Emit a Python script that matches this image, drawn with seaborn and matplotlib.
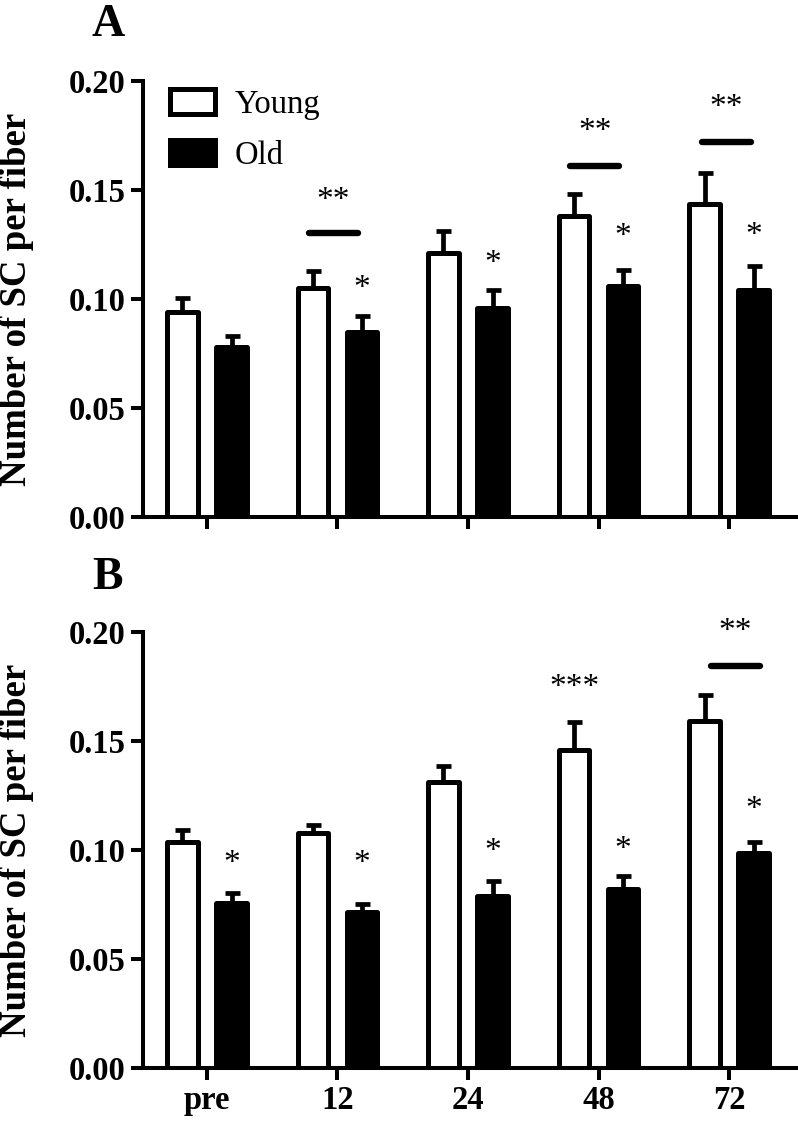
import numpy as np
import pandas as pd
import matplotlib
matplotlib.use('Agg')
import matplotlib.pyplot as plt
from matplotlib.patches import Patch
import seaborn as sns

# ── DATA ─────────────────────────────────────────────────────────────────────
times = ['pre', '12', '24', '48', '72']
groups = ['Young', 'Old']

a_young = [0.094, 0.105, 0.121, 0.138, 0.1435]
a_young_err = [0.0065, 0.008, 0.010, 0.010, 0.0145]
a_old = [0.078, 0.085, 0.096, 0.106, 0.104]
a_old_err = [0.005, 0.007, 0.008, 0.0075, 0.011]

b_young = [0.1035, 0.108, 0.131, 0.146, 0.159]
b_young_err = [0.0055, 0.0035, 0.0075, 0.0128, 0.012]
b_old = [0.0757, 0.0716, 0.079, 0.0821, 0.0986]
b_old_err = [0.0046, 0.0036, 0.0068, 0.006, 0.005]

# significance marks
a_star_old = ['', '*', '*', '*', '*']
a_star_old_y = [0, 0.1087, 0.1202, 0.1326, 0.133]
a_star_young = ['', '', '', '', '']
a_star_young_y = [0, 0, 0, 0, 0]
a_pair = ['', '**', '', '**', '**']
a_pair_line_y = [0, 0.1303, 0, 0.161, 0.172]
a_pair_text_y = [0, 0.149, 0, 0.1807, 0.1917]
a_pair_shift = [0, -0.03, 0, -0.03, -0.02]

b_star_old = ['*', '*', '*', '*', '*']
b_star_old_y = [0.0977, 0.0977, 0.1032, 0.1041, 0.1225]
b_star_young = ['', '', '', '***', '']
b_star_young_y = [0, 0, 0, 0.1784, 0]
b_pair = ['', '', '', '', '**']
b_pair_line_y = [0, 0, 0, 0, 0.1844]
b_pair_text_y = [0, 0, 0, 0, 0.2041]
b_pair_shift = [0, 0, 0, 0, 0.05]

# ── STYLE ────────────────────────────────────────────────────────────────────
sns.set_style('ticks')
plt.rcParams['font.family'] = ['Liberation Serif', 'DejaVu Serif']
plt.rcParams['axes.linewidth'] = 2.9
for key in ['text.color', 'axes.labelcolor', 'xtick.color', 'ytick.color', 'axes.edgecolor']:
    plt.rcParams[key] = 'black'

fig = plt.figure(figsize=(7.98, 11.23), dpi=100)
ax_a = fig.add_axes([0.1792, 0.5396, 0.8195, 0.3883])
ax_b = fig.add_axes([0.1792, 0.0490, 0.8195, 0.3883])


def draw_panel(ax, young, young_err, old, old_err,
               star_young, star_young_y, star_old, star_old_y,
               pair, pair_line_y, pair_text_y, pair_shift, show_xlabels):
    df = pd.DataFrame({
        'time': times * 2,
        'group': ['Young'] * len(times) + ['Old'] * len(times),
        'value': list(young) + list(old),
    })
    sns.barplot(data=df, x='time', y='value', hue='group', order=times,
                hue_order=groups, palette={'Young': 'white', 'Old': 'black'},
                edgecolor='black', linewidth=3.6, width=0.752, gap=0.375,
                errorbar=None, legend=False, ax=ax)
    for p in ax.patches:
        p.set_joinstyle('round')

    bars = ax.patches
    xs_y = [b.get_x() + b.get_width() / 2 for b in bars[:5]]
    xs_o = [b.get_x() + b.get_width() / 2 for b in bars[5:10]]

    for xs, vals, errs in [(xs_y, young, young_err), (xs_o, old, old_err)]:
        ax.errorbar(xs, vals, yerr=[np.zeros(len(vals)), errs], fmt='none',
                    ecolor='black', elinewidth=3.4, capsize=5.4, capthick=3.4,
                    zorder=1)

    def star(txt, x, y):
        ax.annotate(txt, (x, y), xytext=(0, -6.5), textcoords='offset points',
                    ha='center', va='center', fontsize=24, clip_on=False,
                    annotation_clip=False)

    for i in range(len(times)):
        if star_old[i]:
            star(star_old[i], xs_o[i], star_old_y[i])
        if star_young[i]:
            star(star_young[i], xs_y[i], star_young_y[i])
        if pair[i]:
            c = i + pair_shift[i]
            ax.plot([c - 0.19, c + 0.19], [pair_line_y[i]] * 2, color='black',
                    lw=4.6, solid_capstyle='round', clip_on=False)
            star(pair[i], c, pair_text_y[i])

    ax.set_xlim(-0.49, 4.52)
    ax.set_ylim(0, 0.20)
    ax.set_yticks([0.00, 0.05, 0.10, 0.15, 0.20])
    ax.set_yticklabels(['0.00', '0.05', '0.10', '0.15', '0.20'])
    ax.set_xlabel('')
    ax.set_ylabel('Number of SC per fiber', fontsize=26.5, fontweight='bold')
    ax.yaxis.set_label_coords(-0.166, 0.5)
    ax.tick_params(axis='both', width=2.9, length=8.5, labelsize=23.5, pad=4)
    for t in ax.get_yticklabels() + ax.get_xticklabels():
        t.set_fontweight('bold')
    if not show_xlabels:
        ax.set_xticklabels([])
    sns.despine(ax=ax)


draw_panel(ax_a, a_young, a_young_err, a_old, a_old_err,
           a_star_young, a_star_young_y, a_star_old, a_star_old_y,
           a_pair, a_pair_line_y, a_pair_text_y, a_pair_shift, False)
draw_panel(ax_b, b_young, b_young_err, b_old, b_old_err,
           b_star_young, b_star_young_y, b_star_old, b_star_old_y,
           b_pair, b_pair_line_y, b_pair_text_y, b_pair_shift, True)

# legend
handles = [Patch(facecolor='white', edgecolor='black', linewidth=3.6),
           Patch(facecolor='black', edgecolor='black', linewidth=3.6)]
ax_a.legend(handles, groups, loc='upper left', bbox_to_anchor=(-0.004, 1.048),
            frameon=False, fontsize=23.5, handlelength=1.4, handleheight=0.8,
            handletextpad=0.6, labelspacing=0.6)

# panel letters
fig.text(0.135, 0.978, 'A', fontsize=33, fontweight='bold', ha='center', va='center')
fig.text(0.135, 0.4853, 'B', fontsize=33, fontweight='bold', ha='center', va='center')

fig.savefig('out.png', dpi=100)
